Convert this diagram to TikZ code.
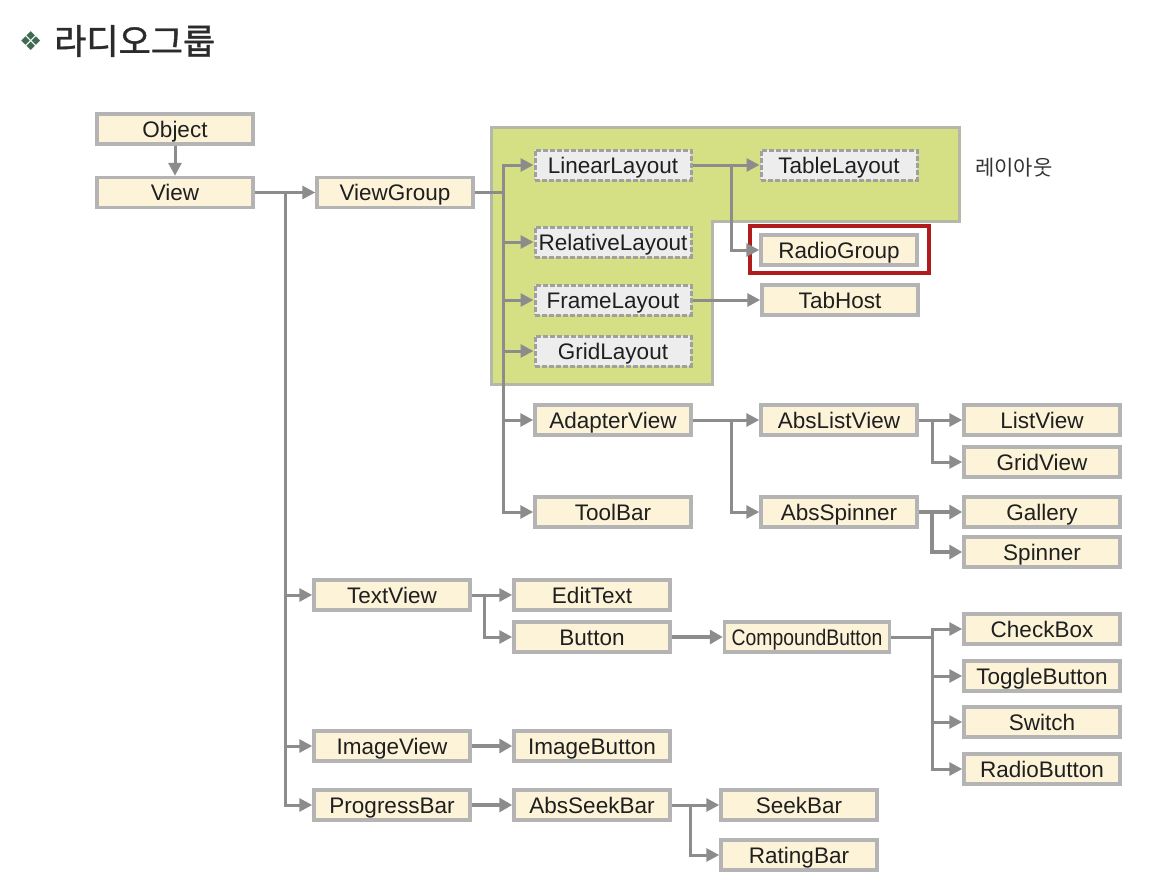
\documentclass[tikz,border=0pt]{standalone}
\usepackage{fontspec}
\setmainfont{Liberation Sans}
\newfontfamily\krfont{Noto Sans CJK KR}
\newfontfamily\krtitle{Noto Sans CJK KR}[FakeBold=1.2]
\newfontfamily\symfont{DejaVu Sans}
\usetikzlibrary{arrows.meta}
\definecolor{cream}{HTML}{FCF3D8}
\definecolor{boxline}{HTML}{B4B4B4}
\definecolor{dashfill}{HTML}{EDEDED}
\definecolor{dashline}{HTML}{A0A0A0}
\definecolor{connc}{HTML}{8C8C8C}
\definecolor{layoutgreen}{HTML}{D5E085}
\definecolor{greenline}{HTML}{B5B8A8}
\definecolor{redbox}{HTML}{B01C1C}
\definecolor{titlegreen}{HTML}{3E6B52}
\definecolor{titletext}{HTML}{2B2B2B}
\begin{document}
\begin{tikzpicture}[x=1pt,y=-1pt,
  cls/.style={draw=boxline, line width=3.5pt, fill=cream, minimum width=156pt, minimum height=30pt,
    inner sep=0pt, text height=20pt, text depth=4pt, font=\fontsize{22.5}{27}\selectfont, text=black!88},
  lay/.style={cls, fill=dashfill, draw=dashline, dash pattern=on 5pt off 2pt, line width=3pt},
  arr/.style={draw=connc, line width=3pt, -{Triangle[length=13pt,width=13pt]}},
  tarr/.style={draw=connc, line width=4.5pt, -{Triangle[length=13pt,width=14pt]}},
  ln/.style={draw=connc, line width=3pt}]
\useasboundingbox (0,0) rectangle (1154,886);
\fill[white] (0,0) rectangle (1154,886);

% title
\node[anchor=west, inner sep=0pt, text=titlegreen, font=\symfont\fontsize{26}{30}\selectfont] (bullet) at (19,41) {❖};
\node[anchor=west, inner sep=0pt, text=titletext, font=\krtitle\fontsize{35}{42}\selectfont] (title) at (54,41) {라디오그룹};

% layout region
\draw[fill=layoutgreen, draw=greenline, line width=3pt] (491,127) -- (959,127) -- (959,221) -- (712,221) -- (712,384) -- (491,384) -- cycle;
\node[anchor=west, inner sep=0pt, font=\krfont\fontsize{21}{25}\selectfont, text=black!80] (laylabel) at (975,168) {레이아웃};

% nodes
\node[cls] (object) at (175,129) {Object};
\node[cls] (view) at (175,192.5) {View};
\node[cls] (viewgroup) at (395,192.5) {ViewGroup};

\node[lay] (linear) at (613,165) {LinearLayout};
\node[lay] (table) at (839,165) {TableLayout};
\node[lay] (relative) at (613,242) {RelativeLayout};
\node[lay] (frame) at (613,300) {FrameLayout};
\node[lay] (grid) at (613,351) {GridLayout};
\node[cls] (radiogroup) at (839,250) {RadioGroup};
\draw[draw=redbox, line width=4pt] ([shift={(-9,-7)}]radiogroup.north west) rectangle ([shift={(10,6)}]radiogroup.south east);
\node[cls] (tabhost) at (840,300) {TabHost};

\node[cls] (adapter) at (613,420) {AdapterView};
\node[cls] (toolbar) at (613,512) {ToolBar};
\node[cls] (abslist) at (839,420) {AbsListView};
\node[cls] (absspinner) at (839,512) {AbsSpinner};
\node[cls] (listview) at (1042,420) {ListView};
\node[cls] (gridview) at (1042,462) {GridView};
\node[cls] (gallery) at (1042,512) {Gallery};
\node[cls] (spinner) at (1042,552) {Spinner};

\node[cls] (textview) at (392,595) {TextView};
\node[cls] (edittext) at (592,595) {EditText};
\node[cls] (button) at (592,637) {Button};
\node[cls, minimum width=165pt] (compound) at (807,637) {\scalebox{0.86}[1]{CompoundButton}};
\node[cls] (checkbox) at (1042,629) {CheckBox};
\node[cls] (toggle) at (1042,676) {ToggleButton};
\node[cls] (switch) at (1042,722) {Switch};
\node[cls] (radiobutton) at (1042,769) {RadioButton};

\node[cls] (imageview) at (392,746) {ImageView};
\node[cls] (imagebutton) at (592,746) {ImageButton};
\node[cls] (progressbar) at (392,805) {ProgressBar};
\node[cls] (absseekbar) at (592,805) {AbsSeekBar};
\node[cls] (seekbar) at (799,805) {SeekBar};
\node[cls] (ratingbar) at (799,855) {RatingBar};

% connectors
\draw[arr] (object.south) -- (view.north);
\coordinate (jv) at (285,192.5);
\draw[arr] (view.east) -- (viewgroup.west);
\draw[arr] (jv) |- (textview.west);
\draw[arr] (jv) |- (imageview.west);
\draw[arr] (jv) |- (progressbar.west);

\coordinate (jg) at (503,192.5);
\draw[ln] (viewgroup.east) -- (jg);
\draw[arr] (jg) |- (linear.west);
\draw[arr] (jg) |- (relative.west);
\draw[arr] (jg) |- (frame.west);
\draw[arr] (jg) |- (grid.west);
\draw[arr] (jg) |- (adapter.west);
\draw[arr] (jg) |- (toolbar.west);

\coordinate (jl) at (731,165);
\draw[arr] (linear.east) -- (table.west);
\draw[arr] (jl) |- (radiogroup.west);
\draw[arr] (frame.east) -- (tabhost.west);

\coordinate (ja) at (731,420);
\draw[arr] (adapter.east) -- (abslist.west);
\draw[arr] (ja) |- (absspinner.west);
\coordinate (jb) at (932,420);
\draw[arr] (abslist.east) -- (listview.west);
\draw[arr] (jb) |- (gridview.west);
\coordinate (jc) at (932,512);
\draw[tarr] (absspinner.east) -- (gallery.west);
\draw[tarr] (jc) |- (spinner.west);

\coordinate (jt) at (484,595);
\draw[arr] (textview.east) -- (edittext.west);
\draw[arr] (jt) |- (button.west);
\draw[tarr] (button.east) -- (compound.west);
\coordinate (jk) at (932,637);
\draw[ln] (compound.east) -- (jk);
\draw[arr] (jk) |- (checkbox.west);
\draw[arr] (jk) |- (toggle.west);
\draw[arr] (jk) |- (switch.west);
\draw[arr] (jk) |- (radiobutton.west);

\draw[tarr] (imageview.east) -- (imagebutton.west);
\draw[tarr] (progressbar.east) -- (absseekbar.west);
\coordinate (js) at (690,805);
\draw[arr] (absseekbar.east) -- (seekbar.west);
\draw[arr] (js) |- (ratingbar.west);
\end{tikzpicture}
\end{document}
